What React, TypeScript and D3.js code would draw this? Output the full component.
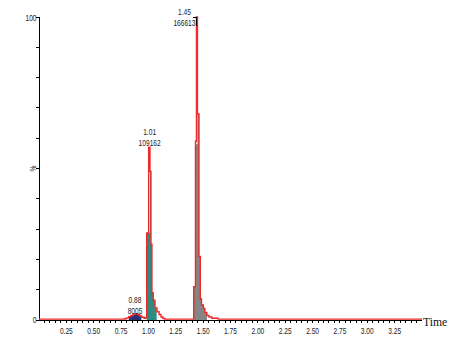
import React from "react";
import * as d3 from "d3";

// Red chromatogram trace (time in min, intensity in %)
const traceTime = [0, 0.78, 0.80, 0.82, 0.84, 0.86, 0.88, 0.90, 0.92, 0.94, 0.96, 0.975, 0.984, 1.002, 1.014, 1.023, 1.032, 1.044, 1.06, 1.078, 1.097, 1.115, 1.133, 1.15, 1.40, 1.414, 1.430, 1.439, 1.448, 1.462, 1.474, 1.485, 1.502, 1.516, 1.534, 1.553, 1.58, 1.635, 3.5];
const traceValue = [0.3, 0.4, 0.7, 1.1, 1.5, 1.9, 2.1, 1.8, 1.3, 0.9, 0.6, 0.8, 28.7, 57, 49, 25, 9, 6.5, 4, 2.7, 1.8, 1.0, 0.5, 0.3, 0.3, 11, 59, 100, 68, 21, 7, 5, 3.8, 2.5, 1.5, 1.0, 0.6, 0.3, 0.3];

// Integrated peak fills
const peak1Time = [0.82, 0.84, 0.86, 0.88, 0.90, 0.92, 0.935];
const peak1Value = [1.0, 1.4, 1.8, 2.0, 1.7, 1.2, 1.2];
const peak2Time = [0.984, 1.014, 1.023, 1.032, 1.044, 1.06, 1.075];
const peak2Value = [28.7, 49, 25, 9, 6.5, 4, 4];
const peak3Time = [1.414, 1.430, 1.448, 1.462, 1.474, 1.485, 1.502, 1.516, 1.535];
const peak3Value = [11, 58, 68, 21, 7, 5, 3.8, 2.5, 2.5];

// Peak annotations (label centre time, and level of the lower line's baseline in %)
const peakLabelTime = ["0.88", "1.01", "1.45"];
const peakLabelArea = ["8005", "109162", "166613"];
const peakLabelX = [0.877, 1.011, 1.329];
const peakLabelY = [1.9, 57.3, 96.9];

const xTicksMajor = [0.25, 0.5, 0.75, 1.0, 1.25, 1.5, 1.75, 2.0, 2.25, 2.5, 2.75, 3.0, 3.25];
const yTicks = [0, 10, 20, 30, 40, 50, 60, 70, 80, 90, 100];

const W = 474;
const H = 347;
const sans = "'Liberation Sans', Arial, sans-serif";
const SQ = 0.76; // horizontal squeeze to mimic a narrow face

function NText(props: {
  x: number;
  y: number;
  anchor?: string;
  size?: number;
  rotate?: number;
  children: React.ReactNode;
}) {
  const { x, y, anchor = "middle", size = 8.7, rotate = 0, children } = props;
  return (
    <text
      x={0}
      y={0}
      textAnchor={anchor}
      fontFamily={sans}
      fontSize={size}
      fill="#222"
      transform={`translate(${x},${y}) rotate(${rotate}) scale(${SQ},1)`}
    >
      {children}
    </text>
  );
}

export default function App() {
  const x = d3.scaleLinear().domain([0, 3.5]).range([39, 422]);
  const y = d3.scaleLinear().domain([0, 100]).range([320, 17]);

  const line = d3
    .line<number>()
    .x((_, i) => x(traceTime[i]))
    .y((d) => y(d))
    .curve(d3.curveStepAfter);

  const mkArea = (times: number[]) =>
    d3
      .area<number>()
      .x((_, i) => x(times[i]))
      .y0(y(0))
      .y1((d) => y(d))
      .curve(d3.curveStepAfter);

  const minorTicks = d3.range(1, 70).map((i) => i * 0.05);
  const apexT2 = 1.448;

  return (
    <svg
      width={W}
      height={H}
      style={{ position: "absolute", left: 0, top: 0, background: "#fff" }}
    >
      {/* fills */}
      <path d={mkArea(peak1Time)(peak1Value) || ""} fill="#2b2f6e" />
      <path d={mkArea(peak2Time)(peak2Value) || ""} fill="#2f8a82" />
      <path d={mkArea(peak3Time)(peak3Value) || ""} fill="#858585" />

      {/* axes */}
      <g stroke="#000" strokeWidth={1} shapeRendering="crispEdges">
        <line x1={x(0)} x2={x(0)} y1={y(100)} y2={y(0)} />
        <line x1={x(0)} x2={x(3.5)} y1={y(0)} y2={y(0)} />
        {yTicks.map((t) => (
          <line key={"yt" + t} x1={x(0) - 3} x2={x(0)} y1={y(t)} y2={y(t)} />
        ))}
        {minorTicks.map((t, i) => (
          <line key={"xt" + i} x1={x(t)} x2={x(t)} y1={y(0)} y2={y(0) + 3} />
        ))}
      </g>

      {/* trace */}
      <path
        d={line(traceValue) || ""}
        fill="none"
        stroke="#f02828"
        strokeWidth={1.4}
      />

      {/* apex marker */}
      <path
        d={`M${x(1.41)},${y(100)}H${x(apexT2) - 0.5}V${y(97)}`}
        fill="none"
        stroke="#000"
        strokeWidth={1}
        shapeRendering="crispEdges"
      />

      {/* tick labels */}
      {xTicksMajor.map((t) => (
        <NText key={"xl" + t} x={x(t)} y={333.5}>
          {t.toFixed(2)}
        </NText>
      ))}
      <NText x={36.5} y={21} anchor="end">100</NText>
      <NText x={36.5} y={323} anchor="end">0</NText>
      <NText x={36} y={y(50)} rotate={-90}>%</NText>

      {/* peak labels */}
      {peakLabelTime.map((lbl, i) => (
        <g key={"pl" + i}>
          <NText x={x(peakLabelX[i])} y={y(peakLabelY[i]) - 11}>
            {lbl}
          </NText>
          <NText x={x(peakLabelX[i])} y={y(peakLabelY[i])}>
            {peakLabelArea[i]}
          </NText>
        </g>
      ))}

      <text
        x={423}
        y={326}
        fontFamily="'Liberation Serif', 'Times New Roman', serif"
        fontSize={11.7}
        fill="#111"
      >
        Time
      </text>
    </svg>
  );
}
